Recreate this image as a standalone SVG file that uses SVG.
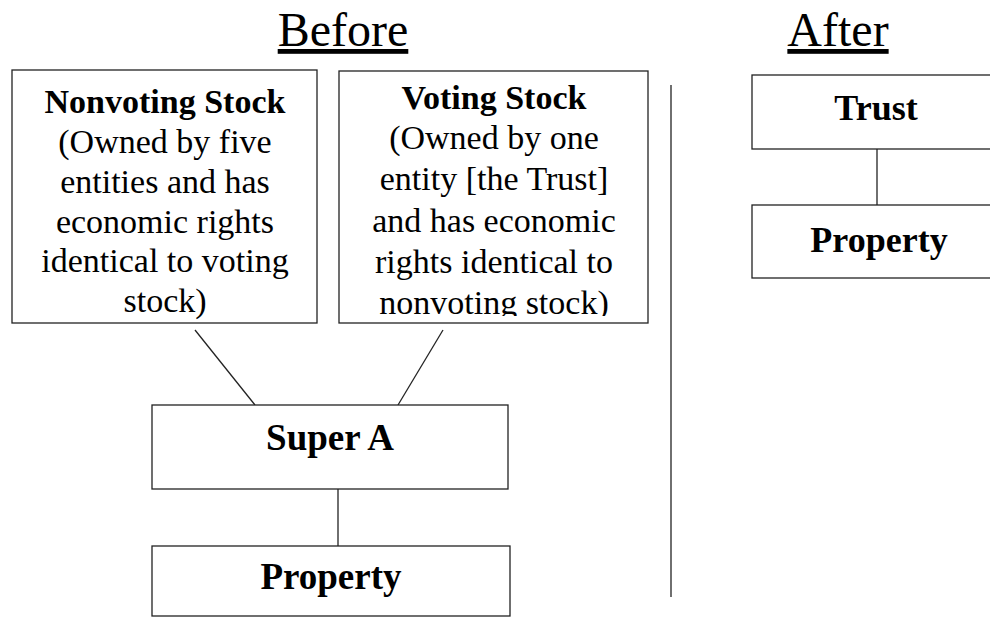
<svg xmlns="http://www.w3.org/2000/svg" width="990" height="626" viewBox="0 0 990 626">
<style>
text{font-family:"Liberation Serif","Times New Roman",serif;fill:#000;text-anchor:middle}
.title{font-size:48px;text-decoration:underline}
.b{font-weight:bold}
.box{fill:#fff;stroke:#222;stroke-width:1.3}
.ln{stroke:#222;stroke-width:1.3;fill:none}
.t34{font-size:34px}
</style>
<defs>
<clipPath id="clipV"><rect x="339" y="71" width="309" height="245"/></clipPath>
</defs>
<rect width="990" height="626" fill="#fff"/>
<text class="title" x="343" y="46">Before</text>
<text class="title" x="838" y="46">After</text>
<g id="connectors">
<line class="ln" x1="195" y1="330" x2="255" y2="405"/>
<line class="ln" x1="443" y1="330" x2="398" y2="405"/>
<line class="ln" x1="338" y1="489" x2="338" y2="546"/>
<line class="ln" x1="877" y1="149" x2="877" y2="205"/>
</g>
<g id="divider"><line class="ln" x1="671" y1="85" x2="671" y2="597"/></g>
<g id="nonvoting">
<rect class="box" x="12" y="70" width="305" height="253"/>
<text class="t34" x="165" y="113"><tspan class="b">Nonvoting Stock</tspan><tspan x="165" y="153">(Owned by five</tspan><tspan x="165" y="193">entities and has</tspan><tspan x="165" y="233">economic rights</tspan><tspan x="165" y="272">identical to voting</tspan><tspan x="165" y="312">stock)</tspan></text>
</g>
<g id="voting">
<rect class="box" x="339" y="71" width="309" height="252"/>
<text class="t34" x="494" y="109" clip-path="url(#clipV)"><tspan class="b">Voting Stock</tspan><tspan x="494" y="149">(Owned by one</tspan><tspan x="494" y="190">entity [the Trust]</tspan><tspan x="494" y="232">and has economic</tspan><tspan x="494" y="273">rights identical to</tspan><tspan x="494" y="314">nonvoting stock)</tspan></text>
</g>
<g id="superA">
<rect class="box" x="152" y="405" width="356" height="84"/>
<text class="b" x="330" y="450" font-size="37">Super A</text>
</g>
<g id="property-before">
<rect class="box" x="152" y="546" width="358" height="70"/>
<text class="b" x="331" y="589" font-size="37">Property</text>
</g>
<g id="trust">
<rect class="box" x="752" y="75" width="250" height="74"/>
<text class="b" x="876" y="120" font-size="36">Trust</text>
</g>
<g id="property-after">
<rect class="box" x="752" y="205" width="250" height="73"/>
<text class="b" x="879" y="252" font-size="36">Property</text>
</g>
</svg>
